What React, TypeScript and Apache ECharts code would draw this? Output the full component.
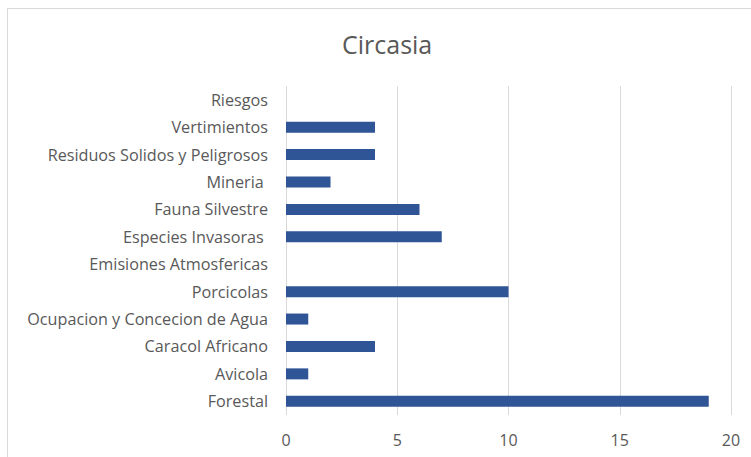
import React, { useEffect, useRef } from "react";
import * as echarts from "echarts";

const categories = [
  "Riesgos",
  "Vertimientos",
  "Residuos Solidos y Peligrosos",
  "Mineria ",
  "Fauna Silvestre",
  "Especies Invasoras ",
  "Emisiones Atmosfericas",
  "Porcicolas",
  "Ocupacion y Concecion de Agua",
  "Caracol Africano",
  "Avicola",
  "Forestal",
];
const values = [0, 4, 4, 2, 6, 7, 0, 10, 1, 4, 1, 19];
const title = "Circasia";

export default function App() {
  const ref = useRef<HTMLDivElement>(null);
  useEffect(() => {
    document.body.style.margin = "0";
    const chart = echarts.init(ref.current!, null, { renderer: "svg" });
    const font = "'Open Sans', sans-serif";
    chart.setOption({
      animation: false,
      backgroundColor: "#ffffff",
      title: {
        text: title,
        left: 337,
        top: 26,
        textStyle: { color: "#595959", fontSize: 25, fontWeight: "normal", fontFamily: font },
      },
      graphic: [
        {
          type: "rect",
          shape: { x: 7.5, y: 8.5, width: 800, height: 500 },
          style: { fill: "none", stroke: "#d9d9d9", lineWidth: 1 },
          silent: true,
        },
      ],
      grid: { left: 286, right: 20, top: 86, bottom: 42 },
      xAxis: {
        type: "value",
        min: 0,
        max: 20,
        interval: 5,
        axisLine: { show: false },
        axisTick: { show: false },
        splitLine: { lineStyle: { color: "#d9d9d9", width: 1 } },
        axisLabel: { color: "#595959", fontSize: 16, fontFamily: font, margin: 17 },
      },
      yAxis: {
        type: "category",
        inverse: true,
        data: categories,
        axisLine: { show: false },
        axisTick: { show: false },
        splitLine: { show: false },
        axisLabel: { color: "#595959", fontSize: 16.2, fontFamily: font, margin: 18 },
      },
      series: [
        {
          type: "bar",
          data: values,
          barWidth: 11,
          itemStyle: { color: "#2f5597" },
        },
      ],
    });
    return () => chart.dispose();
  }, []);
  return <div ref={ref} style={{ width: 751, height: 457 }} />;
}
